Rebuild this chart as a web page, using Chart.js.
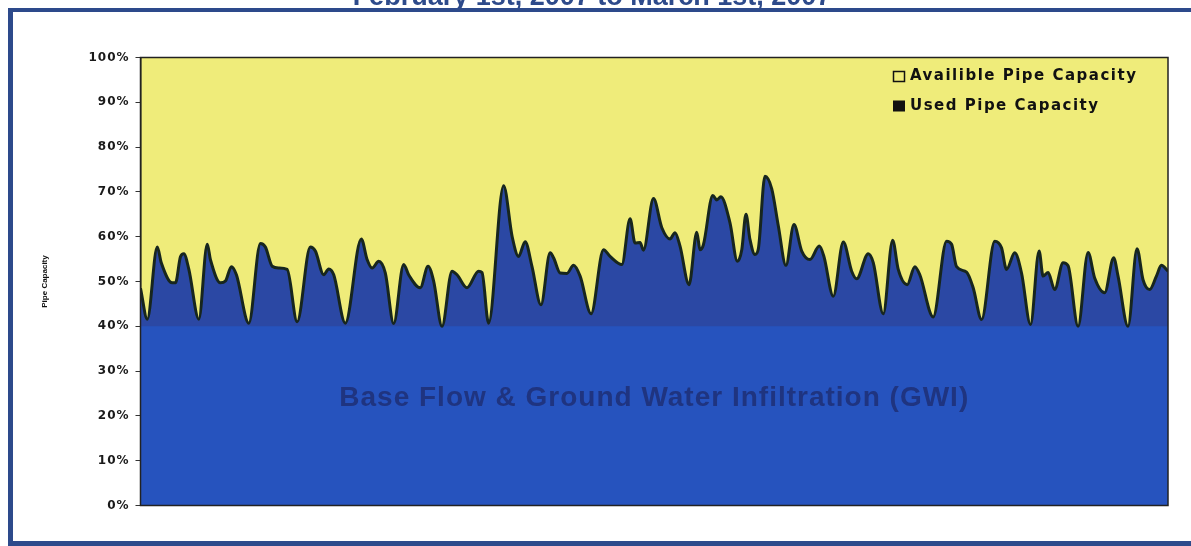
<!DOCTYPE html>
<html>
<head>
<meta charset="utf-8">
<title>Pipe Capacity</title>
<script src="https://cdn.jsdelivr.net/npm/chart.js@4.4.1/dist/chart.umd.min.js"></script>
<style>
  html, body { margin: 0; padding: 0; background: #fff; }
  #wrap { position: relative; width: 1191px; height: 546px; }
</style>
</head>
<body>
<div id="wrap"><canvas id="capacity"></canvas></div>
<script>
// hours since start of the monitoring period
var hours = [
  0, 3.4, 8.4, 10.4, 15.9, 17.5, 20, 21.7, 24.2,
  29.2, 33.4, 35, 40, 42.5, 45.5, 48,
  54.2, 60, 62.5, 65.9, 69.2, 73.4,
  78.4, 85, 87.5, 91.7, 94.2, 96.7,
  102.5, 110.5, 113.4, 115.9, 119.2, 122.5,
  126.7, 131.7, 134.2, 140, 143.9, 146.7,
  150.9, 155.9, 158.4, 163.4, 169.2, 170.9,
  174.2, 181.7, 186, 189.2, 192.5, 195.9,
  200.4, 205, 206.7, 210, 213.4, 216.7, 220,
  225.5, 231.7, 235, 240.9, 245, 247.5, 250, 251.7, 256.7, 260.9, 265, 267.5, 270,
  274.5, 278.4, 280, 281.7, 286.4, 288.4, 290.4, 295,
  298.7, 300.9, 303, 305, 307.5, 309.2, 312.5, 315.9, 319.2,
  323, 327, 330.9, 335, 339.7, 342,
  346.7, 351.7, 355.9, 358.4, 364.2, 366.7,
  371.7, 376.4, 379.2, 383.7, 387.5, 390,
  396.7, 403.4, 405.9, 408.4, 413.4, 416.7,
  420.9, 427.5, 430.9, 433.4, 437.5, 440.9,
  445.4, 449.7, 451.7, 454.2, 457.5, 461.7, 464.2,
  469.2, 474.2, 477.5, 482.5, 487, 489.2,
  494.2, 498.7, 501.7, 505, 508.4, 510.9, 514.2
];

// used pipe capacity, percent
var usedPct = [
  48.5, 41.6, 57.7, 54.2, 49.7, 49.7, 55.5, 56.2, 52.7,
  41.6, 58.3, 54.9, 49.7, 50.1, 53.3, 51.5,
  40.7, 58.5, 57.7, 53.4, 53.0, 52.7,
  41.0, 57.7, 56.8, 51.5, 52.8, 51.5,
  40.7, 59.5, 54.9, 53.0, 54.5, 51.9,
  40.6, 53.8, 51.5, 48.6, 53.4, 50.1,
  40.0, 52.3, 51.5, 48.6, 52.3, 52.0,
  40.7, 71.4, 60.0, 55.6, 58.9, 53.4,
  44.8, 56.4, 55.3, 51.9, 51.8, 53.6, 51.2,
  42.8, 57.1, 55.6, 53.8, 64.0, 58.6, 58.7, 57.0, 68.5, 62.0, 59.5, 60.9, 57.9,
  49.3, 61.0, 57.1, 58.2, 69.2, 68.2, 68.9, 63.1,
  54.5, 57.1, 65.0, 59.4, 56.0, 57.3, 73.5, 70.7, 62.4,
  53.6, 62.7, 56.8, 54.9, 57.9, 55.6,
  46.7, 58.8, 52.3, 50.6, 56.2, 54.2,
  42.8, 59.2, 52.7, 49.3, 53.3, 51.5,
  42.1, 59.0, 58.3, 53.3, 52.1, 48.6,
  41.5, 59.0, 57.5, 52.7, 56.4, 51.9,
  40.4, 56.8, 51.2, 52.0, 48.2, 54.2, 53.5,
  40.0, 56.5, 50.8, 47.5, 55.3, 51.2,
  40.0, 57.3, 50.4, 48.2, 51.2, 53.6, 52.3
];

// base flow and ground water infiltration level, percent
var basePct = 40;

var yTicks = [0, 10, 20, 30, 40, 50, 60, 70, 80, 90, 100];

var legendLabels = ["Availible Pipe Capacity", "Used Pipe Capacity"];
var baseLabel = "Base Flow & Ground Water Infiltration (GWI)";
var titleText = "February 1st, 2007 to March 1st, 2007";
var yTitle = "Pipe Capacity";

var usedPoints = [];
for (var i = 0; i < hours.length; i++) {
  usedPoints.push({ x: hours[i], y: usedPct[i] });
}
var basePoints = [
  { x: hours[0], y: basePct },
  { x: hours[hours.length - 1], y: basePct }
];

var frameColor = "#2d4a8b";

var decorations = {
  id: "decorations",
  beforeDraw: function (chart) {
    var ctx = chart.ctx, a = chart.chartArea;
    ctx.letterSpacing = "1px";
    ctx.fillStyle = "#efec7a";
    ctx.fillRect(a.left, a.top, a.right - a.left, a.bottom - a.top);
  },
  afterDatasetsDraw: function (chart) {
    var ctx = chart.ctx, a = chart.chartArea;
    var yScale = chart.scales.y;
    ctx.save();

    // plot frame
    ctx.strokeStyle = "#222";
    ctx.lineWidth = 1.5;
    ctx.strokeRect(a.left, a.top, a.right - a.left, a.bottom - a.top);

    // base flow label across the lower band
    ctx.letterSpacing = "1px";
    ctx.font = "bold 28px 'Liberation Sans', Arial, sans-serif";
    ctx.fillStyle = "#1f3480";
    ctx.textAlign = "center";
    ctx.textBaseline = "middle";
    ctx.fillText(baseLabel, (a.left + a.right) / 2, yScale.getPixelForValue(24));

    // legend, top right inside the plot
    var lx = a.right - 275;
    var ly = a.top + 19;
    ctx.letterSpacing = "1.5px";
    ctx.font = "bold 15px 'DejaVu Sans', sans-serif";
    ctx.textAlign = "left";
    ctx.fillStyle = "#111";
    ctx.strokeStyle = "#111";
    ctx.lineWidth = 1.5;
    ctx.strokeRect(lx + 0.5, ly - 5, 11, 10);
    ctx.fillText(legendLabels[0], lx + 17, ly);
    ctx.fillRect(lx, ly + 24, 12, 11);
    ctx.fillText(legendLabels[1], lx + 17, ly + 30);
    ctx.restore();
  },
  afterDraw: function (chart) {
    var ctx = chart.ctx, a = chart.chartArea;
    ctx.save();
    ctx.letterSpacing = "0px";

    // y axis title
    ctx.save();
    ctx.translate(45, (a.top + a.bottom) / 2);
    ctx.rotate(-Math.PI / 2);
    ctx.font = "bold 8px 'Liberation Sans Narrow', 'Liberation Sans', Arial, sans-serif";
    ctx.fillStyle = "#111";
    ctx.textAlign = "center";
    ctx.textBaseline = "middle";
    ctx.fillText(yTitle, 0, 0);
    ctx.restore();

    // title, mostly cut off by the top of the frame
    ctx.font = "bold 27px 'Liberation Sans', Arial, sans-serif";
    ctx.fillStyle = frameColor;
    ctx.textAlign = "center";
    ctx.textBaseline = "alphabetic";
    ctx.fillText(titleText, 592, 5);

    // outer frame
    ctx.fillRect(8, 8, chart.width - 8, 4);
    ctx.fillRect(8, 8, 5, chart.height - 8);
    ctx.fillRect(8, chart.height - 5, chart.width - 8, 5);
    ctx.restore();
  }
};

var ctx = document.getElementById("capacity");

var chart = new Chart(ctx, {
  type: "line",
  data: {
    datasets: [
      {
        label: "Base Flow",
        data: basePoints,
        borderWidth: 0,
        pointRadius: 0,
        backgroundColor: "#2653be",
        fill: "origin"
      },
      {
        label: legendLabels[1],
        data: usedPoints,
        borderColor: "#17261e",
        borderWidth: 3,
        pointRadius: 0,
        cubicInterpolationMode: "monotone",
        backgroundColor: "#2b48a4",
        fill: "origin"
      }
    ]
  },
  plugins: [decorations],
  options: {
    responsive: true,
    maintainAspectRatio: false,
    animation: false,
    layout: {
      padding: { top: 57.5, right: 23, bottom: 40.5, left: 0 }
    },
    plugins: {
      legend: { display: false },
      tooltip: { enabled: false },
      filler: { drawTime: "beforeDatasetsDraw" }
    },
    scales: {
      x: {
        type: "linear",
        min: hours[0],
        max: hours[hours.length - 1],
        display: false
      },
      y: {
        min: yTicks[0],
        max: yTicks[yTicks.length - 1],
        afterFit: function (scale) { scale.width = 140.5; },
        afterBuildTicks: function (scale) {
          scale.ticks = yTicks.map(function (v) { return { value: v }; });
        },
        ticks: {
          padding: 6,
          color: "#1a1a1a",
          font: { family: "'DejaVu Sans', sans-serif", size: 12, weight: "bold" },
          callback: function (v) { return v + "%"; }
        },
        grid: {
          drawOnChartArea: false,
          drawTicks: true,
          tickLength: 5,
          color: "#333"
        },
        border: { display: true, color: "#222", width: 1.5 }
      }
    }
  }
});
</script>
</body>
</html>
